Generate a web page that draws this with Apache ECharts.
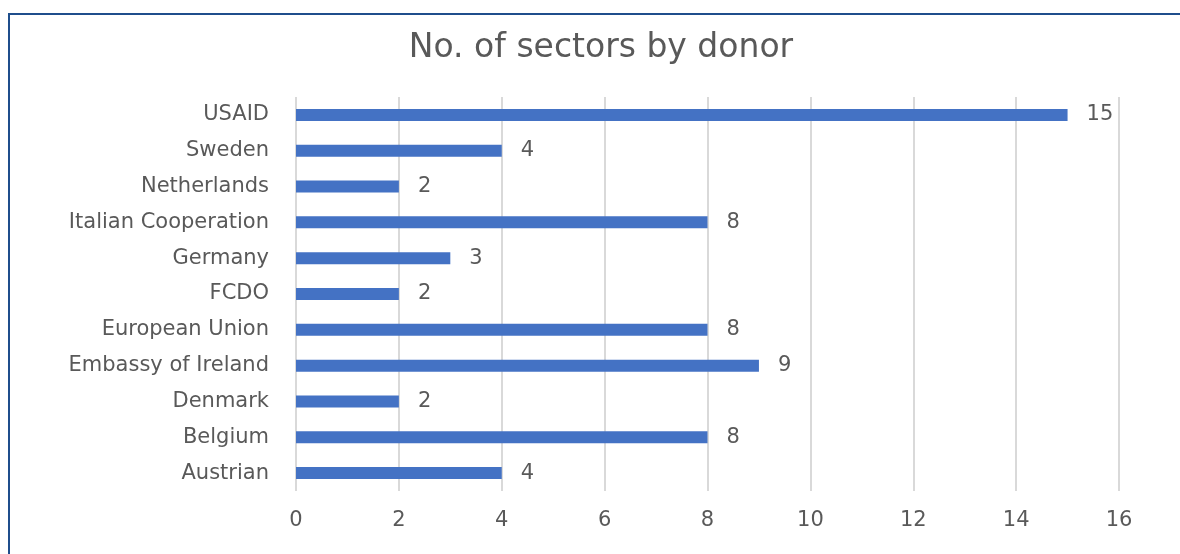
<!DOCTYPE html>
<html>
<head>
<meta charset="utf-8">
<script src="https://cdn.jsdelivr.net/npm/echarts@6/dist/echarts.min.js"></script>
<style>
html,body{margin:0;padding:0;background:#fff;}
#frame{position:absolute;left:8px;top:13px;width:1180px;height:560px;border:2px solid #1f4e8c;box-sizing:border-box;}
#chart{position:absolute;left:0;top:0;width:1180px;height:554px;}
</style>
</head>
<body>
<div id="frame"></div>
<div id="chart"></div>
<script>
const titleText = 'No. of sectors by donor';
const categories = ['Austrian','Belgium','Denmark','Embassy of Ireland','European Union','FCDO','Germany','Italian Cooperation','Netherlands','Sweden','USAID'];
const values = [4, 8, 2, 9, 8, 2, 3, 8, 2, 4, 15];
const xTicks = {min: 0, max: 16, interval: 2};

const FONT = 'DejaVu Sans';
const chart = echarts.init(document.getElementById('chart'), null, {renderer: 'canvas'});
chart.setOption({
  animation: false,
  backgroundColor: 'transparent',
  title: {
    text: titleText,
    left: 596,
    textAlign: 'center',
    top: 27,
    textStyle: {fontFamily: FONT, fontSize: 33, fontWeight: 'normal', color: '#595959'}
  },
  grid: {left: 296, right: 61, top: 97, bottom: 63, containLabel: false},
  xAxis: {
    type: 'value',
    min: xTicks.min, max: xTicks.max, interval: xTicks.interval,
    axisLine: {show: false},
    axisTick: {show: false},
    splitLine: {show: true, lineStyle: {color: '#d9d9d9', width: 2}},
    axisLabel: {fontFamily: FONT, fontSize: 21, color: '#595959', margin: 19}
  },
  yAxis: {
    type: 'category',
    data: categories,
    axisLine: {show: false},
    axisTick: {show: false},
    axisLabel: {fontFamily: FONT, fontSize: 21, color: '#595959', margin: 27}
  },
  series: [{
    type: 'bar',
    data: values,
    barWidth: 12,
    itemStyle: {color: '#4472c4'},
    label: {show: true, position: 'right', distance: 19, fontFamily: FONT, fontSize: 21, color: '#595959'}
  }]
});
</script>
</body>
</html>
